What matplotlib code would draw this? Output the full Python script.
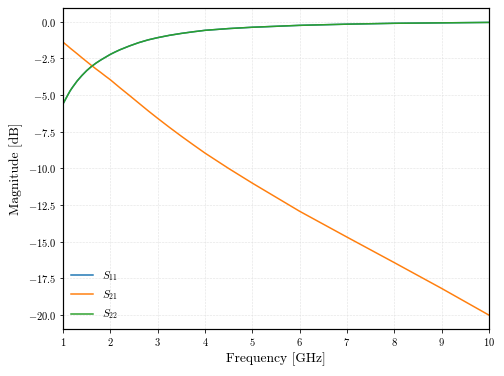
import matplotlib
matplotlib.use("Agg")
import matplotlib.pyplot as plt

plt.rcParams['font.family'] = 'serif'
plt.rcParams['font.serif'] = ['cmr10']
plt.rcParams['mathtext.fontset'] = 'cm'
plt.rcParams['axes.formatter.use_mathtext'] = True
plt.rcParams['axes.unicode_minus'] = True

freq_ghz = [1.0, 1.05, 1.1, 1.15, 1.2, 1.3, 1.4, 1.5, 1.6, 1.7, 1.8, 1.9, 2.0,
            2.1, 2.2, 2.4, 2.6, 2.8, 3.0, 3.25, 3.5, 3.75, 4.0, 4.5, 5.0,
            6.0, 7.0, 8.0, 9.0, 10.0]
s21_db = [-1.38, -1.52, -1.65, -1.79, -1.92, -2.18, -2.45, -2.71, -2.97, -3.22,
          -3.46, -3.71, -3.95, -4.22, -4.49, -5.01, -5.54, -6.07, -6.58, -7.20,
          -7.80, -8.38, -8.95, -10.0, -11.0, -12.92, -14.68, -16.42, -18.18,
          -20.0]
s22_db = [-5.60, -5.30, -5.00, -4.71, -4.47, -4.03, -3.66, -3.33, -3.05, -2.81,
          -2.60, -2.41, -2.22, -2.06, -1.91, -1.65, -1.42, -1.23, -1.08, -0.92,
          -0.79, -0.68, -0.58, -0.46, -0.37, -0.24, -0.16, -0.10, -0.07,
          -0.04]
s11_db = list(s22_db)

fig = plt.figure(figsize=(7.0, 376/72), dpi=72)
ax = fig.add_axes([0.125, 0.125, 0.845, 0.854])

ax.plot(freq_ghz, s11_db, color='#1f77b4', lw=1.5, label=r'$S_{11}$')
ax.plot(freq_ghz, s21_db, color='#ff7f0e', lw=1.5, label=r'$S_{21}$')
ax.plot(freq_ghz, s22_db, color='#2ca02c', lw=1.5, label=r'$S_{22}$')

ax.set_xlim(1, 10)
ax.set_ylim(-20.95, 0.95)
ax.set_xticks(range(1, 11))
ax.set_yticks([0, -2.5, -5, -7.5, -10, -12.5, -15, -17.5, -20])
ax.grid(True, ls='--', color='#dddddd', lw=0.6, alpha=0.8)
ax.set_xlabel('Frequency [GHz]', fontsize=13.5)
ax.set_ylabel('Magnitude [dB]', fontsize=13.5, labelpad=5)
ax.tick_params(labelsize=10.5)
for s in ax.spines.values():
    s.set_linewidth(1.2)
ax.legend(loc='lower left', frameon=False, fontsize=11, borderaxespad=0.3)

fig.savefig('out.png', dpi=72)
